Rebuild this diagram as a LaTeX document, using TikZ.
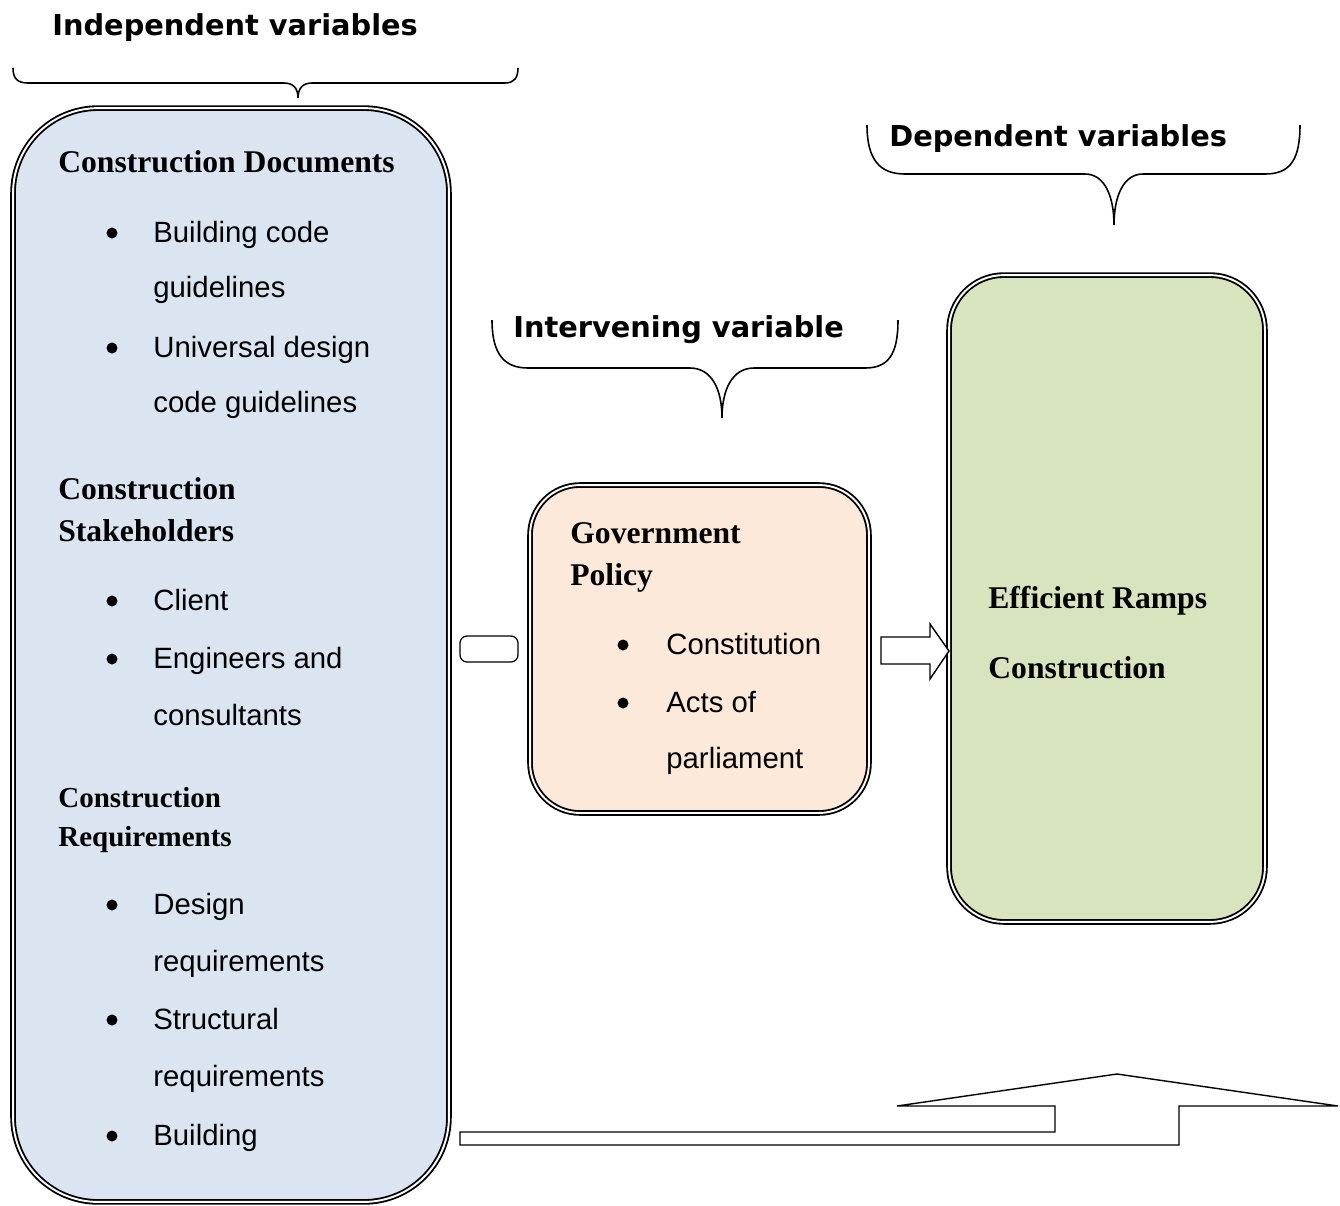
\documentclass[tikz,border=0pt]{standalone}
\usepackage{fontspec}
\setmainfont{Liberation Serif}
\newfontfamily\bodyfont{Liberation Sans}
\newfontfamily\headfont{DejaVu Sans}
\definecolor{docblue}{HTML}{DBE5F1}
\definecolor{policypeach}{HTML}{FDE9D9}
\definecolor{rampgreen}{HTML}{D7E4BD}

\begin{document}
\begin{tikzpicture}[x=0.02cm, y=-0.02cm,
    varbox/.style={draw, double, double distance=1.1pt, line width=1.05pt, inner sep=0},
    bracket/.style={line width=0.9pt},
    blockarrow/.style={draw, line width=0.8pt, fill=white, line join=miter},
    heading/.style={font=\headfont\bfseries\fontsize{16.4}{20}\selectfont, anchor=base west, inner sep=0},
    serifhead/.style={font=\bfseries\fontsize{18}{22}\selectfont, anchor=base west, inner sep=0},
    smallhead/.style={font=\bfseries\fontsize{16.5}{20}\selectfont, anchor=base west, inner sep=0},
    item/.style={font=\bodyfont\fontsize{16.7}{20}\selectfont, anchor=base west, inner sep=0},
    dot/.style={circle, fill, inner sep=0, minimum size=0.22cm}]
    \useasboundingbox (0,0) rectangle (1340,1205);

    % boxes
    \node[varbox, fill=docblue, rounded corners=1.7cm, minimum width=8.72cm, minimum height=21.88cm] (indep) at (231,655) {};
    \node[varbox, fill=policypeach, rounded corners=1.0cm, minimum width=6.78cm, minimum height=6.56cm] (policy) at (699.5,649) {};
    \node[varbox, fill=rampgreen, rounded corners=1.1cm, minimum width=6.32cm, minimum height=12.94cm] (ramps) at (1107,598.5) {};

    % headings and braces
    \node[heading] (indeplabel) at (52,35) {Independent variables};
    \draw[bracket] (13,68) .. controls (13,78) and (17,83) .. (28,83) -- (284,83)
        .. controls (293,83) and (298,88) .. (298,98)
        .. controls (298,88) and (303,83) .. (312,83) -- (505,83)
        .. controls (514,83) and (518,78) .. (518,68);

    \node[heading] (interlabel) at (513,337) {Intervening variable};
    \draw[bracket] (492,320) .. controls (492,355) and (505,368) .. (528,368) -- (690,368)
        .. controls (712,368) and (722,390) .. (722,418)
        .. controls (722,390) and (732,368) .. (754,368) -- (865,368)
        .. controls (888,368) and (898,355) .. (898,320);

    \node[heading] (deplabel) at (889,146) {Dependent variables};
    \draw[bracket] (867,125) .. controls (867,160) and (880,174) .. (905,174) -- (1085,174)
        .. controls (1105,174) and (1114,197) .. (1114,225)
        .. controls (1114,197) and (1123,174) .. (1143,174) -- (1265,174)
        .. controls (1290,174) and (1300,160) .. (1300,125);

    % independent variables
    \node[serifhead] (docs) at (58,172) {Construction Documents};
    \node[dot] (docsdot1) at (112,233) {};
    \node[item] (docs1) at (153,242) {Building code};
    \node[item] (docs1b) at (153,297) {guidelines};
    \node[dot] (docsdot2) at (112,348) {};
    \node[item] (docs2) at (153,357) {Universal design};
    \node[item] (docs2b) at (153,412) {code guidelines};

    \node[serifhead] (stake) at (58,499) {Construction};
    \node[serifhead] (stakeb) at (58,541) {Stakeholders};
    \node[dot] (stakedot1) at (112,601) {};
    \node[item] (stake1) at (153,610) {Client};
    \node[dot] (stakedot2) at (112,659) {};
    \node[item] (stake2) at (153,668) {Engineers and};
    \node[item] (stake2b) at (153,725) {consultants};

    \node[smallhead] (reqs) at (58,807) {Construction};
    \node[smallhead] (reqsb) at (58,846) {Requirements};
    \node[dot] (reqsdot1) at (112,905) {};
    \node[item] (reqs1) at (153,914) {Design};
    \node[item] (reqs1b) at (153,971) {requirements};
    \node[dot] (reqsdot2) at (112,1020) {};
    \node[item] (reqs2) at (153,1029) {Structural};
    \node[item] (reqs2b) at (153,1086) {requirements};
    \node[dot] (reqsdot3) at (112,1136) {};
    \node[item] (reqs3) at (153,1145) {Building};

    % intervening variable
    \node[serifhead] (gov) at (570,543) {Government};
    \node[serifhead] (govb) at (570,585) {Policy};
    \node[dot] (govdot1) at (623,645) {};
    \node[item] (gov1) at (666,654) {Constitution};
    \node[dot] (govdot2) at (623,703) {};
    \node[item] (gov2) at (666,712) {Acts of};
    \node[item] (gov2b) at (666,768) {parliament};

    % dependent variable
    \node[serifhead] (eff) at (988,608) {Efficient Ramps};
    \node[serifhead] (effb) at (988,678) {Construction};

    % links
    \node[draw, fill=white, line width=0.7pt, rounded corners=4pt, minimum width=1.16cm, minimum height=0.52cm, inner sep=0] (linkbar) at (489,649) {};
    \draw[blockarrow] (881,637) -- (930,637) -- (930,624) -- (949,651) -- (930,679) -- (930,664) -- (881,664) -- cycle;
    \draw[blockarrow] (460,1132) -- (1055,1132) -- (1055,1106) -- (897,1106) -- (1117,1074) -- (1338,1106)
        -- (1179,1106) -- (1179,1145) -- (460,1145) -- cycle;
\end{tikzpicture}
\end{document}
